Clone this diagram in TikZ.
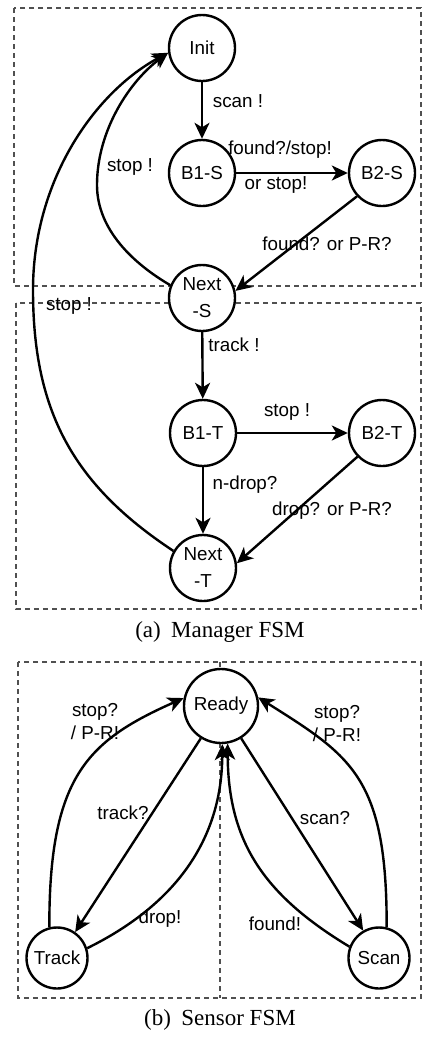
\documentclass[tikz,border=0pt]{standalone}
\usepackage{fontspec}
\setmainfont{Liberation Sans}
\newfontfamily\capfont{Liberation Serif}
\usetikzlibrary{arrows.meta}
\definecolor{boxgray}{RGB}{80,80,80}
\begin{document}
\begin{tikzpicture}[x=1pt,y=-1pt,
  state/.style={circle, draw, line width=2.4pt, fill=white, minimum size=66pt,
    inner sep=0pt, align=center, font=\fontsize{18.8}{22}\selectfont},
  twoline/.style={font=\fontsize{18.8}{27}\selectfont},
  lbl/.style={inner sep=0pt, align=center, font=\fontsize{18.8}{23}\selectfont},
  edge/.style={line width=2.4pt, -{Stealth[length=16pt,width=15pt,inset=4.5pt]}},
  frame/.style={draw=boxgray, line width=2pt, dash pattern=on 5pt off 4pt},
  caption/.style={inner sep=0pt, font=\capfont\fontsize{23}{27}\selectfont}]

\useasboundingbox (0,0) rectangle (422,1037);

% dashed containers
\draw[frame] (14,8) rectangle (421,286);
\draw[frame] (16,303) rectangle (421,609);
\draw[frame] (18,662) rectangle (421,998);
\draw[frame] (220,662) -- (220,998);

% ---------- manager FSM ----------
\node[state] (init) at (202,48) {Init};
\node[state] (b1s) at (202,173) {B1-S};
\node[state] (b2s) at (382,173) {B2-S};
\node[state, twoline] (nexts) at (202,298) {Next\\-S};
\node[state] (b1t) at (203,433) {B1-T};
\node[state] (b2t) at (382,433) {B2-T};
\node[state, twoline] (nextt) at (203,568) {Next\\-T};

\draw[edge] (init) -- (b1s);
\draw[edge] (b1s) -- (b2s);
\draw[edge] (b2s.223) -- (nexts.12);
\draw[edge] (nexts) -- (b1t);
\draw[edge] (b1t) -- (b2t);
\draw[edge] (b1t) -- (nextt);
\draw[edge] (b2t.224) -- (nextt.8);
\draw[edge] (nexts.158) .. controls (134,264) and (97,230) .. (97,185)
  .. controls (97,130) and (130,81) .. (init.188);
\draw[edge] (nextt.150) .. controls (72,484) and (33,410) .. (33,290)
  .. controls (33,180) and (95,92) .. (init.188);

\node[lbl] (lscan) at (238,101) {scan !};
\node[lbl] (lfound) at (280,150) {found?/stop!};
\node[lbl] (lorstop) at (276,185) {or stop!};
\node[lbl] (lstopa) at (130,167) {stop !};
\node[lbl] (lfoundpr) at (327,244) {found? or P-R?};
\node[lbl] (lstopb) at (69,306) {stop !};
\node[lbl] (ltrack) at (234,345) {track !};
\node[lbl] (lstopc) at (287,412) {stop !};
\node[lbl] (lndrop) at (245,485) {n-drop?};
\node[lbl] (ldroppr) at (332,511) {drop? or P-R?};

\node[caption] (capa) at (220,632) {(a)\hspace{0.45em}Manager FSM};

% ---------- sensor FSM ----------
\node[state, minimum size=74pt] (ready) at (221,706) {Ready};
\node[state, minimum size=61pt] (track) at (57,958) {Track};
\node[state, minimum size=61pt] (scan) at (379,958) {Scan};

\draw[edge] (ready.238) -- (track.55);
\draw[edge] (ready.302) -- (scan.120);
\draw[edge] (track.104) .. controls (49,777) and (87,741) .. (ready.168);
\draw[edge] (scan.76) .. controls (387,777) and (351,756) .. (ready.13);
\draw[edge] (track.18) .. controls (175,905) and (222,840) .. (ready.272);
\draw[edge] (scan.159) .. controls (262,894) and (228,840) .. (ready.280);

\node[lbl] (lstopl) at (95,722) {stop?\\/ P-R!};
\node[lbl] (lstopr) at (337,724) {stop?\\/ P-R!};
\node[lbl] (ltrackq) at (123,813) {track?};
\node[lbl] (lscanq) at (325,818) {scan?};
\node[lbl] (ldrop) at (160,919) {drop!};
\node[lbl] (lfoundx) at (275,924) {found!};

\node[caption] (capb) at (220,1020) {(b)\hspace{0.45em}Sensor FSM};
\end{tikzpicture}
\end{document}
